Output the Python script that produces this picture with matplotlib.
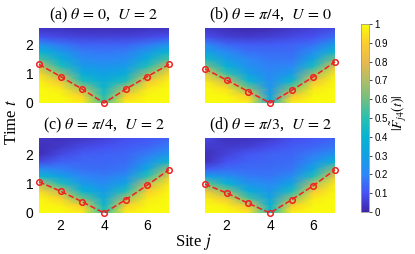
import numpy as np
import matplotlib
matplotlib.use("Agg")
import matplotlib.pyplot as plt
from matplotlib.colors import LinearSegmentedColormap

plt.rcParams['mathtext.fontset'] = 'stix'
plt.rcParams['font.family'] = ['Liberation Sans', 'DejaVu Sans']

# sites and time grid
sites = [1, 2, 3, 4, 5, 6, 7]
times = [0, 0.25, 0.5, 0.75, 1.0, 1.25, 1.5, 1.75, 2.0, 2.25, 2.55]

titles = [r"(a) $\theta\,=\,0$,  $U\,=\,2$", r"(b) $\theta\,=\,\pi/4$,  $U\,=\,0$",
          r"(c) $\theta\,=\,\pi/4$,  $U\,=\,2$", r"(d) $\theta\,=\,\pi/3$,  $U\,=\,2$"]

# arrival time of the front (red circles)
front_a = [1.31, 0.90, 0.47, 0.0, 0.47, 0.90, 1.31]
front_b = [1.16, 0.78, 0.39, 0.0, 0.43, 0.89, 1.40]
front_c = [1.06, 0.74, 0.38, 0.0, 0.45, 0.95, 1.47]
front_d = [0.98, 0.68, 0.33, 0.0, 0.45, 0.93, 1.47]

# |F_j4(t)| rows = times, cols = sites
field_a = [[1.00, 1.00, 0.97, 0.55, 0.97, 1.00, 1.00],
           [1.00, 0.99, 0.90, 0.48, 0.90, 0.99, 1.00],
           [1.00, 0.95, 0.70, 0.42, 0.70, 0.95, 1.00],
           [0.98, 0.85, 0.48, 0.36, 0.48, 0.85, 0.98],
           [0.92, 0.66, 0.36, 0.30, 0.36, 0.66, 0.92],
           [0.75, 0.48, 0.28, 0.25, 0.28, 0.48, 0.75],
           [0.55, 0.36, 0.22, 0.20, 0.22, 0.36, 0.55],
           [0.40, 0.27, 0.18, 0.17, 0.18, 0.27, 0.40],
           [0.24, 0.17, 0.13, 0.13, 0.13, 0.17, 0.24],
           [0.10, 0.08, 0.07, 0.07, 0.07, 0.08, 0.10],
           [0.03, 0.03, 0.02, 0.02, 0.02, 0.03, 0.03]]

field_b = [[1.00, 1.00, 0.97, 0.35, 0.97, 1.00, 1.00],
           [1.00, 0.99, 0.88, 0.30, 0.86, 0.99, 1.00],
           [1.00, 0.93, 0.62, 0.26, 0.62, 0.95, 1.00],
           [0.96, 0.75, 0.42, 0.23, 0.42, 0.84, 0.99],
           [0.85, 0.52, 0.30, 0.21, 0.28, 0.66, 0.95],
           [0.62, 0.38, 0.24, 0.19, 0.21, 0.46, 0.82],
           [0.45, 0.28, 0.20, 0.17, 0.17, 0.32, 0.60],
           [0.32, 0.21, 0.16, 0.15, 0.15, 0.23, 0.42],
           [0.20, 0.14, 0.12, 0.12, 0.13, 0.16, 0.28],
           [0.09, 0.06, 0.05, 0.06, 0.08, 0.10, 0.15],
           [0.04, 0.02, 0.01, 0.02, 0.04, 0.06, 0.08]]

field_c = [[1.00, 1.00, 0.97, 0.50, 0.97, 1.00, 1.00],
           [1.00, 0.98, 0.88, 0.42, 0.90, 0.99, 1.00],
           [0.99, 0.90, 0.60, 0.35, 0.68, 0.96, 1.00],
           [0.92, 0.72, 0.40, 0.28, 0.48, 0.88, 0.99],
           [0.72, 0.48, 0.28, 0.22, 0.32, 0.72, 0.96],
           [0.42, 0.30, 0.20, 0.18, 0.23, 0.50, 0.86],
           [0.22, 0.19, 0.16, 0.15, 0.17, 0.34, 0.66],
           [0.08, 0.13, 0.14, 0.14, 0.15, 0.24, 0.42],
           [0.02, 0.08, 0.12, 0.13, 0.14, 0.18, 0.26],
           [0.02, 0.05, 0.08, 0.10, 0.12, 0.14, 0.18],
           [0.04, 0.03, 0.04, 0.06, 0.09, 0.11, 0.13]]

field_d = [[1.00, 1.00, 0.96, 0.45, 0.97, 1.00, 1.00],
           [1.00, 0.97, 0.84, 0.38, 0.90, 0.99, 1.00],
           [0.97, 0.86, 0.55, 0.32, 0.66, 0.96, 1.00],
           [0.86, 0.64, 0.36, 0.26, 0.46, 0.87, 0.99],
           [0.60, 0.40, 0.25, 0.21, 0.31, 0.70, 0.96],
           [0.30, 0.24, 0.18, 0.17, 0.22, 0.48, 0.85],
           [0.12, 0.15, 0.15, 0.15, 0.17, 0.33, 0.64],
           [0.03, 0.10, 0.13, 0.14, 0.15, 0.23, 0.40],
           [0.02, 0.07, 0.11, 0.13, 0.14, 0.18, 0.25],
           [0.05, 0.05, 0.06, 0.09, 0.12, 0.14, 0.17],
           [0.08, 0.03, 0.03, 0.05, 0.09, 0.11, 0.13]]

fields = [field_a, field_b, field_c, field_d]
fronts = [front_a, front_b, front_c, front_d]

# approximate MATLAB parula
parula = LinearSegmentedColormap.from_list("parula", [
    (0.2422, 0.1504, 0.6603), (0.2810, 0.3228, 0.9579),
    (0.1786, 0.5289, 0.9682), (0.0689, 0.6279, 0.8935),
    (0.0267, 0.7047, 0.8240), (0.1540, 0.7518, 0.6955),
    (0.4420, 0.7481, 0.5033), (0.6834, 0.7435, 0.4044),
    (0.9139, 0.7258, 0.3063), (0.9880, 0.8066, 0.1794),
    (0.9763, 0.9831, 0.0538)])

fig = plt.figure(figsize=(4.15, 2.54), dpi=100)
W, H = 415, 254
boxes = [(39, 28), (205, 28), (39, 138), (205, 138)]

for k, (x0, y0) in enumerate(boxes):
    ax = fig.add_axes([x0 / W, 1 - (y0 + 75) / H, 130 / W, 75 / H])
    mesh = ax.pcolormesh(sites, times, np.array(fields[k]), shading='gouraud',
                         cmap=parula, vmin=0, vmax=1)
    ax.plot(sites, fronts[k], '--', color='#ee2222', lw=1.1,
            marker='o', ms=4, mfc='none', mec='#ee2222', mew=1.1, clip_on=False)
    ax.set_xlim(1, 7)
    ax.set_ylim(0, 2.55)
    ax.set_xticks([2, 4, 6])
    ax.set_yticks([0, 1, 2])
    if k < 2:
        ax.set_xticklabels([])
    if k % 2 == 1:
        ax.set_yticklabels([])
    ax.tick_params(length=0, labelsize=10, pad=4)
    for s in ax.spines.values():
        s.set_visible(False)
    ax.set_title(titles[k], fontsize=11.5, family='Liberation Serif', pad=6)

cax = fig.add_axes([361 / W, 1 - 212 / H, 8 / W, 188 / H])
cb = fig.colorbar(mesh, cax=cax, ticks=np.arange(0, 1.01, 0.1))
cb.ax.set_yticklabels(['0', '0.1', '0.2', '0.3', '0.4', '0.5', '0.6', '0.7', '0.8', '0.9', '1'])
cb.ax.tick_params(labelsize=7, length=2, width=0.5, pad=2)
cb.outline.set_edgecolor('#999999')
cb.outline.set_linewidth(0.6)
fig.text(399 / W, 1 - 113 / H, r"$|\tilde{F}_{j4}(t)|$", rotation=90,
         fontsize=10, ha='center', va='center')

fig.text(0.03, 0.52, r"Time $t$", rotation=90, fontsize=12,
         family='Liberation Serif', ha='center', va='center')
fig.text(0.465, 0.047, r"Site $j$", fontsize=12,
         family='Liberation Serif', ha='center', va='center')

fig.savefig("out.png", dpi=100)
